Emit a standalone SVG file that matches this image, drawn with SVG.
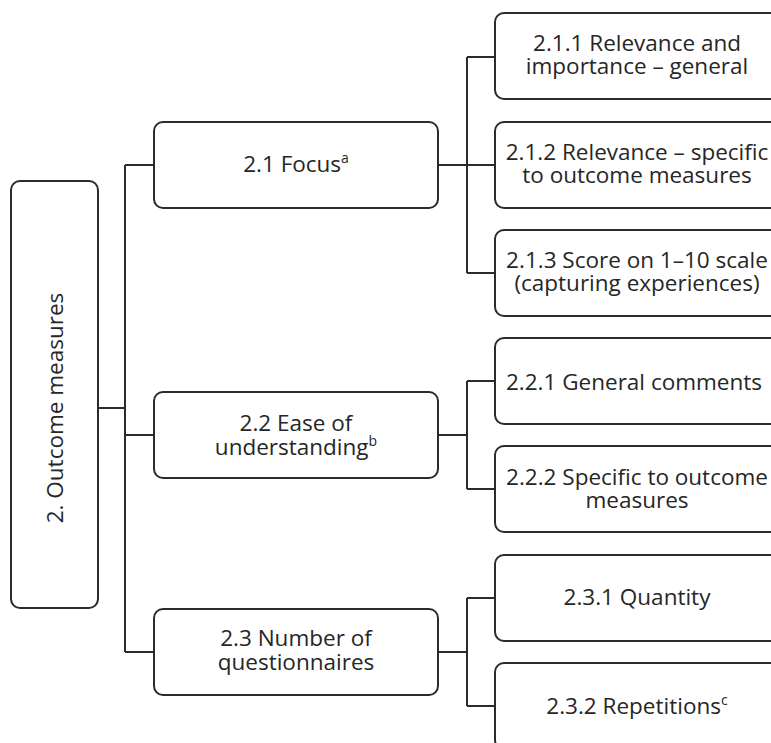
<svg xmlns="http://www.w3.org/2000/svg" width="771" height="743" viewBox="0 0 771 743">
<style>
.box{fill:#fff;stroke:#2b2b2b;stroke-width:2}
.con{fill:none;stroke:#2b2b2b;stroke-width:2}
text{font-family:"Open Sans","Noto Sans","DejaVu Sans",sans-serif;font-size:22.5px;fill:#262626;text-anchor:middle}
.sup{font-size:14px}
</style>
<rect width="771" height="743" fill="#fff"/>
<g id="connectors" class="con">
<path d="M98 408H125M125 165V652M125 165H154M125 435H154M125 652H154"/>
<path d="M438 165H467M467 57V273M467 57H495M467 165H495M467 273H495"/>
<path d="M438 435H467M467 381V489M467 381H495M467 489H495"/>
<path d="M438 652H467M467 598V706M467 598H495M467 706H495"/>
</g>
<g id="n2">
<rect class="box" x="11" y="181" width="87" height="427" rx="9"/>
<text transform="translate(63,408) rotate(-90)">2. Outcome measures</text>
</g>
<g id="n2_1">
<rect class="box" x="154" y="122" width="284" height="86" rx="9"/>
<text x="296" y="172">2.1 Focus<tspan class="sup" dy="-9">a</tspan></text>
</g>
<g id="n2_2">
<rect class="box" x="154" y="392" width="284" height="86" rx="9"/>
<text x="296" y="431">2.2 Ease of<tspan x="296" y="455">understanding</tspan><tspan class="sup" dy="-9">b</tspan></text>
</g>
<g id="n2_3">
<rect class="box" x="154" y="609" width="284" height="86" rx="9"/>
<text x="296" y="646">2.3 Number of<tspan x="296" y="670">questionnaires</tspan></text>
</g>
<g id="n2_1_1">
<rect class="box" x="495" y="13" width="284" height="86" rx="9"/>
<text x="637" y="51">2.1.1 Relevance and<tspan x="637" y="74">importance – general</tspan></text>
</g>
<g id="n2_1_2">
<rect class="box" x="495" y="122" width="284" height="86" rx="9"/>
<text x="637" y="160">2.1.2 Relevance – specific<tspan x="637" y="183">to outcome measures</tspan></text>
</g>
<g id="n2_1_3">
<rect class="box" x="495" y="230" width="284" height="86" rx="9"/>
<text x="637" y="268">2.1.3 Score on 1–10 scale<tspan x="637" y="291">(capturing experiences)</tspan></text>
</g>
<g id="n2_2_1">
<rect class="box" x="495" y="338" width="284" height="86" rx="9"/>
<text x="634" y="390">2.2.1 General comments</text>
</g>
<g id="n2_2_2">
<rect class="box" x="495" y="446" width="284" height="86" rx="9"/>
<text x="637" y="485">2.2.2 Specific to outcome<tspan x="637" y="508">measures</tspan></text>
</g>
<g id="n2_3_1">
<rect class="box" x="495" y="555" width="284" height="86" rx="9"/>
<text x="637" y="605">2.3.1 Quantity</text>
</g>
<g id="n2_3_2">
<rect class="box" x="495" y="663" width="284" height="86" rx="9"/>
<text x="637" y="714">2.3.2 Repetitions<tspan class="sup" dy="-9">c</tspan></text>
</g>
</svg>
